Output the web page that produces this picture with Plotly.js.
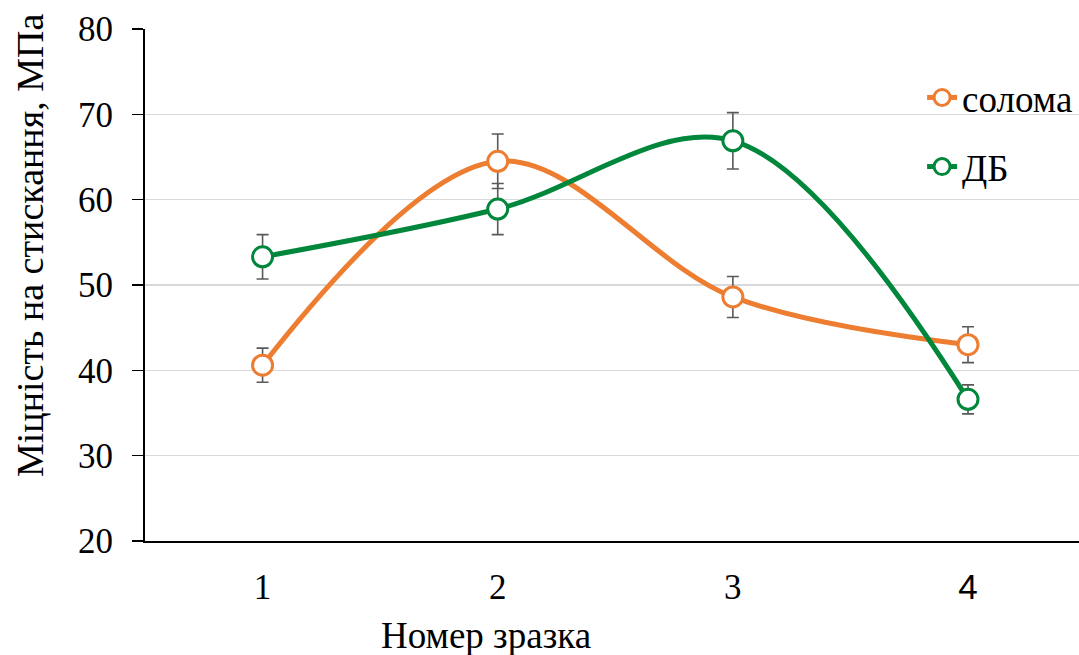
<!DOCTYPE html>
<html>
<head>
<meta charset="utf-8">
<script src="https://cdn.plot.ly/plotly-3.0.1.min.js"></script>
<style>html,body{margin:0;padding:0;background:#fff;}#chart{width:1079px;height:655px;}</style>
</head>
<body>
<div id="chart"></div>
<script>
const samples = [1, 2, 3, 4];
const tickLabels = ['1', '2', '3', '<span style="font-family:\'Liberation Sans\'">4</span>'];
const seriesNames = ['солома', 'ДБ'];
const solomaValues = [40.6, 64.5, 48.6, 43.0];
const solomaErrors = [2.0, 3.2, 2.4, 2.1];
const dbValues = [53.3, 58.9, 66.9, 36.6];
const dbErrors = [2.6, 3.0, 3.3, 1.7];
const yTicks = [20, 30, 40, 50, 60, 70, 80];
const xTitle = 'Номер зразка';
const yTitle = 'Міцність на стискання, МПа';

const serif = "Liberation Serif";

function series(name, y, err, color, group) {
  return {
    x: samples, y: y, name: name, type: 'scatter', mode: 'lines+markers',
    legendgroup: group,
    line: {color: color, width: 5, shape: 'spline', smoothing: 1},
    marker: {symbol: 'circle', size: 20, color: '#ffffff', line: {color: color, width: 3}},
    error_y: {type: 'data', array: err, visible: true, color: '#595959', thickness: 1.6, width: 6},
    cliponaxis: false
  };
}

const data = [
  series(seriesNames[0], solomaValues, solomaErrors, '#ED7D31', 'a'),
  series(seriesNames[1], dbValues, dbErrors, '#00873C', 'b')
];

const layout = {
  width: 1079, height: 655,
  margin: {l: 145, r: 0, t: 29, b: 114, pad: 0},
  paper_bgcolor: '#ffffff', plot_bgcolor: '#ffffff',
  font: {family: serif, color: '#000000', size: 35},
  showlegend: true,
  legend: {
    x: 0.832, y: 0.926, xanchor: 'left', yanchor: 'top',
    font: {family: serif, size: 37, color: '#000'},
    bgcolor: 'rgba(0,0,0,0)', traceorder: 'grouped', tracegroupgap: 18
  },
  xaxis: {
    type: 'linear', range: [0.5, 4.472],
    tickmode: 'array', tickvals: samples, ticktext: tickLabels,
    showgrid: false, zeroline: false,
    showline: true, linecolor: '#000', linewidth: 2,
    ticks: '', ticklabelstandoff: 14,
    tickfont: {family: serif, size: 35, color: '#000'}
  },
  yaxis: {
    range: [20, 80], tickmode: 'array', tickvals: yTicks,
    showgrid: true, gridcolor: '#D9D9D9', gridwidth: 1.5,
    zeroline: false, showline: true, linecolor: '#000', linewidth: 2,
    ticks: 'outside', ticklen: 11, tickwidth: 1.5, tickcolor: '#000',
    ticklabelstandoff: 12,
    tickfont: {family: serif, size: 35, color: '#000'}
  },
  annotations: [
    {text: xTitle, xref: 'paper', yref: 'paper', x: (486 - 145) / 934, y: -94 / 512,
     xanchor: 'center', yanchor: 'middle', showarrow: false,
     font: {family: serif, size: 37, color: '#000'}},
    {text: yTitle, xref: 'paper', yref: 'paper', x: (30 - 145) / 934, y: (541 - 246) / 512,
     xanchor: 'center', yanchor: 'middle', showarrow: false, textangle: -90,
     font: {family: serif, size: 38, color: '#000'}}
  ]
};

Plotly.newPlot('chart', data, layout, {displayModeBar: false, staticPlot: true});
</script>
</body>
</html>
